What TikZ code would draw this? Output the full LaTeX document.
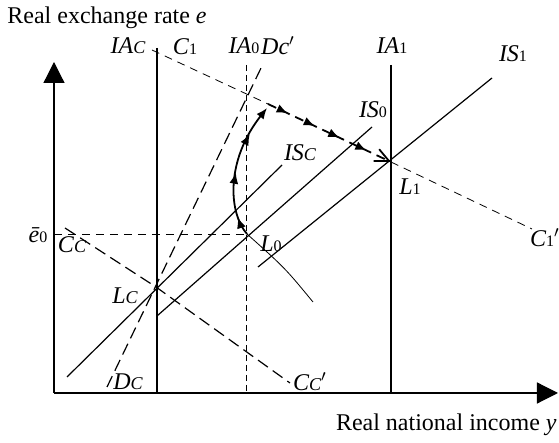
\documentclass[tikz,border=0pt]{standalone}
\usepackage{fontspec}
\setmainfont{Liberation Serif}
\usetikzlibrary{arrows.meta,decorations.markings}

\newcommand{\lsub}[1]{{\fontsize{8}{8}\selectfont\upshape #1}}
\newcommand{\csub}{{\fontsize{9}{9}\selectfont\itshape C}}

\begin{document}
\begin{tikzpicture}[x=0.5pt,y=-0.5pt,
    lbl/.style={font=\fontsize{12}{14}\selectfont\itshape, inner sep=0pt},
    axtext/.style={font=\fontsize{12}{14}\selectfont, inner sep=0pt},
    axis/.style={line width=0.6pt,-{Triangle[length=10.5pt,width=10.5pt]}},
    solidline/.style={line width=0.6pt},
    thindash/.style={line width=0.4pt,dash pattern=on 4pt off 3pt},
    longdash/.style={line width=0.6pt,dash pattern=on 6pt off 3pt},
    shortdash/.style={line width=0.5pt,dash pattern=on 3pt off 2pt},
    arcpath/.style={line width=0.9pt,-{Latex[length=5.5pt,width=4.5pt]},
      postaction={decorate},decoration={markings,
        mark=at position 0.14 with {\arrow{Latex[length=5.5pt,width=4.5pt]}},
        mark=at position 0.47 with {\arrow{Latex[length=5.5pt,width=4.5pt]}},
        mark=at position 0.77 with {\arrow{Latex[length=5.5pt,width=4.5pt]}}}},
    jumppath/.style={line width=0.9pt,dash pattern=on 4.5pt off 3pt,
      -{Straight Barb[length=7pt,width=6.5pt]},
      postaction={decorate},decoration={markings,
        mark=at position 0.16 with {\arrow{Latex[length=5.5pt,width=4.5pt]}},
        mark=at position 0.38 with {\arrow{Latex[length=5.5pt,width=4.5pt]}},
        mark=at position 0.58 with {\arrow{Latex[length=5.5pt,width=4.5pt]}},
        mark=at position 0.80 with {\arrow{Latex[length=5.5pt,width=4.5pt]}}}}]
      \useasboundingbox (0,0) rectangle (559,443);
      % axes
      \coordinate (O) at (54,393);
      \coordinate (ytip) at (54,62);
      \coordinate (xtip) at (558,393);
      \draw[axis] (O) -- (ytip);
      \draw[axis] (O) -- (xtip);
      \node[axtext, anchor=base west] (ylab) at (7,24) {Real exchange rate \textit{e}};
      \node[axtext, anchor=base east] (xlab) at (557,431) {Real national income \textit{y}};
      % equilibrium points
      \coordinate (Lc) at (156,287);
      \coordinate (L0) at (247,234);
      \coordinate (L1) at (391,162);
      % vertical IA lines
      \coordinate (IAc-top) at (157,48);
      \coordinate (IAc-bot) at (157,393);
      \coordinate (IA0-top) at (247,65);
      \coordinate (IA0-bot) at (247,393);
      \coordinate (IA1-top) at (391,65);
      \coordinate (IA1-bot) at (391,393);
      \draw[solidline] (IAc-top) -- (IAc-bot);
      \draw[shortdash] (IA0-top) -- (IA0-bot);
      \draw[solidline] (IA1-top) -- (IA1-bot);
      \node[lbl] (IAc) at (128,46) {IA\csub};
      \node[lbl] (IA0) at (244,46) {IA\lsub{0}};
      \node[lbl] (IA1) at (392,46) {IA\lsub{1}};
      % IS lines
      \coordinate (ISc-a) at (67,377);
      \coordinate (ISc-b) at (282,165);
      \coordinate (IS0-a) at (157,316);
      \coordinate (IS0-b) at (372,127);
      \coordinate (IS1-a) at (258,267);
      \coordinate (IS1-b) at (492,78);
      \draw[solidline] (ISc-a) -- (ISc-b);
      \draw[solidline] (IS0-a) -- (IS0-b);
      \draw[solidline] (IS1-a) -- (IS1-b);
      \node[lbl] (ISc) at (300,153) {IS\csub};
      \node[lbl] (IS0) at (373,110) {IS\lsub{0}};
      \node[lbl] (IS1) at (513,54) {IS\lsub{1}};
      % D and C lines
      \coordinate (Dc-a) at (107,387);
      \coordinate (Dc-b) at (262,66);
      \draw[longdash] (Dc-a) -- (Dc-b);
      \node[lbl] (Dc) at (128,382) {D\csub};
      \node[lbl] (Dc') at (278,46) {Dc$'$};
      \coordinate (Cc-a) at (65,228);
      \coordinate (Cc-b) at (290,383);
      \draw[longdash] (Cc-a) -- (Lc) -- (Cc-b);
      \node[lbl] (Cc) at (72,245) {C\csub};
      \node[lbl] (Cc') at (310,382) {C\csub$'$};
      \coordinate (C1-a) at (152,50);
      \coordinate (C1-m) at (268,104);
      \coordinate (C1-b) at (532,229);
      \draw[thindash] (C1-a) -- (C1-m);
      \draw[thindash] (L1) -- (C1-b);
      \node[lbl] (C1) at (185,47) {C\lsub{1}};
      \node[lbl] (C1') at (545,238) {C\lsub{1}$'$};
      % e0 level
      \coordinate (e0-a) at (54,234);
      \draw[thindash] (e0-a) -- (L0);
      \node[lbl] (e0) at (38,235) {\={e}\lsub{0}};
      % labels of points
      \node[lbl] (L0lab) at (271,244) {L\lsub{0}};
      \node[lbl] (L1lab) at (410,187) {L\lsub{1}};
      \node[lbl] (Lclab) at (125,296) {L\csub};
      % adjustment paths
      \coordinate (tail) at (313,302);
      \coordinate (arcend) at (267,108);
      \draw[line width=0.4pt] (tail) .. controls (285,268) .. (L0);
      \draw[arcpath] (L0) .. controls (228,212) and (226,160) .. (arcend);
      \draw[jumppath] (C1-m) -- (L1);
    \end{tikzpicture}
\end{document}
